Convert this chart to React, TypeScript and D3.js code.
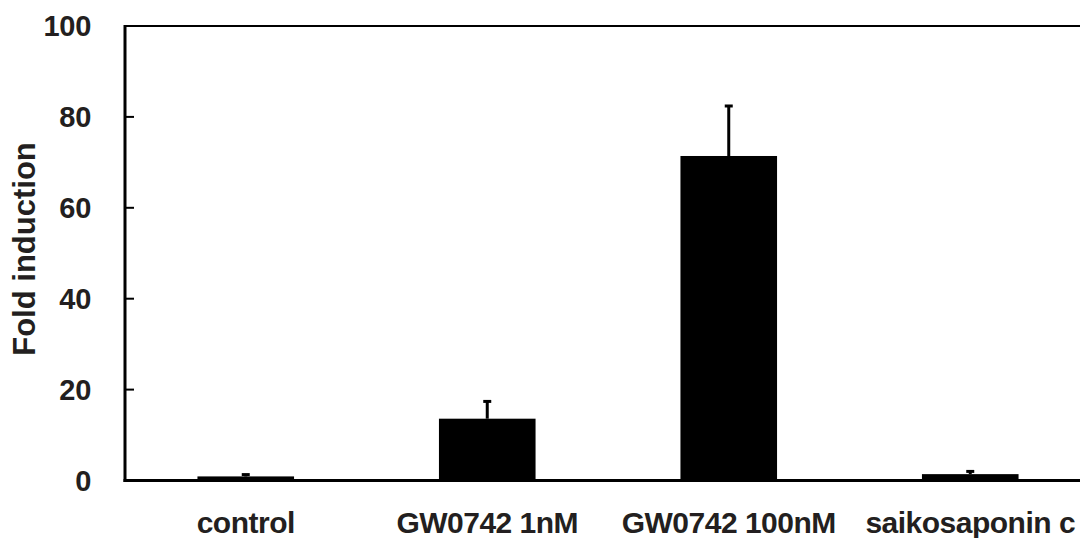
import React, { useEffect, useRef } from 'react';
import * as d3 from 'd3';

const categories = ['control', 'GW0742 1nM', 'GW0742 100nM', 'saikosaponin c'];
const foldValues = [0.9, 13.6, 71.4, 1.4];
const foldErrors = [0.4, 3.8, 11.0, 0.6];
const yTicks = [0, 20, 40, 60, 80, 100];

export default function App() {
  const ref = useRef<SVGSVGElement>(null);

  useEffect(() => {
    const svg = d3.select(ref.current);
    svg.selectAll('*').remove();

    const left = 125, top = 26, bottom = 480.5;
    const step = 241.5;
    const font = "'Liberation Sans', Arial, sans-serif";

    const x = d3.scaleBand<string>()
      .domain(categories)
      .range([left, left + step * categories.length])
      .padding(0);
    const y = d3.scaleLinear().domain([0, 100]).range([bottom, top]);
    const bw = x.bandwidth() * 0.4;

    const data = categories.map((c, i) => ({ c, v: foldValues[i], e: foldErrors[i] }));

    // bars
    svg.append('g')
      .selectAll('rect')
      .data(data)
      .enter()
      .append('rect')
      .attr('x', d => x(d.c)! + (x.bandwidth() - bw) / 2)
      .attr('y', d => y(d.v))
      .attr('width', bw)
      .attr('height', d => y(0) - y(d.v))
      .attr('fill', '#000');

    // error bars
    const eg = svg.append('g').attr('stroke', '#000');
    eg.selectAll('line.stem')
      .data(data)
      .enter()
      .append('line')
      .attr('class', 'stem')
      .attr('x1', d => x(d.c)! + x.bandwidth() / 2)
      .attr('x2', d => x(d.c)! + x.bandwidth() / 2)
      .attr('y1', d => y(d.v))
      .attr('y2', d => y(d.v + d.e))
      .attr('stroke-width', 3);
    eg.selectAll('line.cap')
      .data(data)
      .enter()
      .append('line')
      .attr('class', 'cap')
      .attr('x1', d => x(d.c)! + x.bandwidth() / 2 - 4)
      .attr('x2', d => x(d.c)! + x.bandwidth() / 2 + 4)
      .attr('y1', d => y(d.v + d.e))
      .attr('y2', d => y(d.v + d.e))
      .attr('stroke-width', 3);

    // frame lines
    svg.append('line')
      .attr('x1', left).attr('x2', 1080)
      .attr('y1', top).attr('y2', top)
      .attr('stroke', '#000').attr('stroke-width', 2);
    svg.append('line')
      .attr('x1', left - 1.5).attr('x2', 1080)
      .attr('y1', bottom).attr('y2', bottom)
      .attr('stroke', '#000').attr('stroke-width', 3);
    svg.append('line')
      .attr('x1', left).attr('x2', left)
      .attr('y1', top - 1).attr('y2', bottom + 1.5)
      .attr('stroke', '#000').attr('stroke-width', 3);

    // y ticks (inside) and labels
    const yg = svg.append('g');
    yg.selectAll('line')
      .data(yTicks.filter(t => t > 0 && t < 100))
      .enter()
      .append('line')
      .attr('x1', left).attr('x2', left + 9)
      .attr('y1', d => y(d)).attr('y2', d => y(d))
      .attr('stroke', '#000').attr('stroke-width', 2);
    yg.selectAll('text')
      .data(yTicks)
      .enter()
      .append('text')
      .attr('x', 91)
      .attr('y', d => y(d))
      .attr('dy', '0.36em')
      .attr('text-anchor', 'end')
      .attr('font-family', font)
      .attr('font-weight', 'bold')
      .attr('font-size', 29)
      .attr('letter-spacing', -0.3)
      .attr('fill', '#231f20')
      .text(d => d);

    // x labels
    svg.append('g')
      .selectAll('text')
      .data(categories)
      .enter()
      .append('text')
      .attr('x', d => x(d)! + x.bandwidth() / 2)
      .attr('y', 533)
      .attr('text-anchor', 'middle')
      .attr('font-family', font)
      .attr('font-weight', 'bold')
      .attr('font-size', 30)
      .attr('letter-spacing', -0.5)
      .attr('fill', '#231f20')
      .text(d => d);

    // y title
    svg.append('text')
      .attr('transform', 'translate(35,249) rotate(-90)')
      .attr('text-anchor', 'middle')
      .attr('font-family', font)
      .attr('font-weight', 'bold')
      .attr('font-size', 31)
      .attr('fill', '#231f20')
      .text('Fold induction');
  }, []);

  return (
    <div style={{ position: 'fixed', left: 0, top: 0, background: '#fff' }}>
      <svg ref={ref} width={1080} height={538} style={{ display: 'block' }} />
    </div>
  );
}
